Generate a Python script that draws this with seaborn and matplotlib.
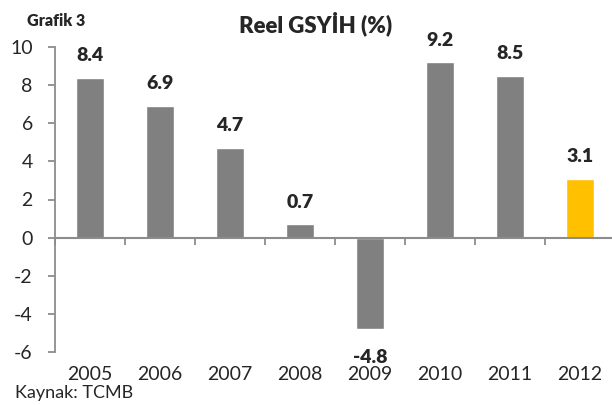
import matplotlib
matplotlib.use("Agg")
import matplotlib.pyplot as plt
import seaborn as sns
import pandas as pd
import numpy as np

years = ["2005", "2006", "2007", "2008", "2009", "2010", "2011", "2012"]
values = [8.4, 6.9, 4.7, 0.7, -4.8, 9.2, 8.5, 3.1]
labels = ["8.4", "6.9", "4.7", "0.7", "-4.8", "9.2", "8.5", "3.1"]
yticks = [-6, -4, -2, 0, 2, 4, 6, 8, 10]

GRAY = "#808080"
GOLD = "#FFC000"
AXC = "#8c8c8c"
colors = [GRAY] * 7 + [GOLD]

sns.set_style("white")
plt.rcParams["font.family"] = ["Lato", "DejaVu Sans"]

df = pd.DataFrame({"year": years, "value": values})

fig = plt.figure(figsize=(6.12, 4.05), dpi=100)
ax = fig.add_axes([55 / 612, 53 / 405, 560 / 612, 305 / 405])
sns.barplot(data=df, x="year", y="value", hue="year", palette=colors,
            legend=False, width=0.4, saturation=1, ax=ax)

ax.set_ylim(-6, 10)
ax.set_xlim(-0.5, len(years) - 0.5)
ax.set_yticks(yticks)
ax.set_yticklabels([str(t) for t in yticks], fontsize=14)
ax.set_xlabel("")
ax.set_ylabel("")

for s in ["top", "right", "bottom"]:
    ax.spines[s].set_visible(False)
ax.spines["left"].set_color(AXC)
ax.spines["left"].set_linewidth(1.3)
ax.tick_params(axis="y", direction="out", length=5, width=1.3, color=AXC,
               pad=11, left=True)
ax.tick_params(axis="x", length=0, labelsize=14, pad=10)

# zero category axis
ax.axhline(0, color=AXC, lw=1.5, zorder=3)
zero_frac = (0 - (-6)) / (10 - (-6))
sec = ax.secondary_xaxis(zero_frac)
sec.set_xticks(np.arange(len(years) + 1) - 0.5)
sec.set_xticklabels([])
sec.tick_params(direction="out", length=5, width=1.3, color=AXC)
sec.spines["bottom"].set_visible(False)

for i, (v, lab) in enumerate(zip(values, labels)):
    if v >= 0:
        ax.annotate(lab, (i, v), xytext=(0, 12), textcoords="offset points",
                    ha="center", va="baseline", fontsize=14, fontweight="heavy")
    else:
        ax.annotate(lab, (i, v), xytext=(0, -24.5), textcoords="offset points",
                    ha="center", va="baseline", fontsize=14, fontweight="heavy")

fig.text(316 / 612, 1 - 24 / 405, "Reel GSYİH (%)", ha="center", va="center",
         fontsize=16, fontweight="heavy")
fig.text(27 / 612, 1 - 21 / 405, "Grafik 3", ha="left", va="center",
         fontsize=11.5, fontweight="heavy")
fig.text(15 / 612, 1 - 393 / 405, "Kaynak: TCMB", ha="left", va="center",
         fontsize=13)

fig.savefig("out.png", dpi=100)
